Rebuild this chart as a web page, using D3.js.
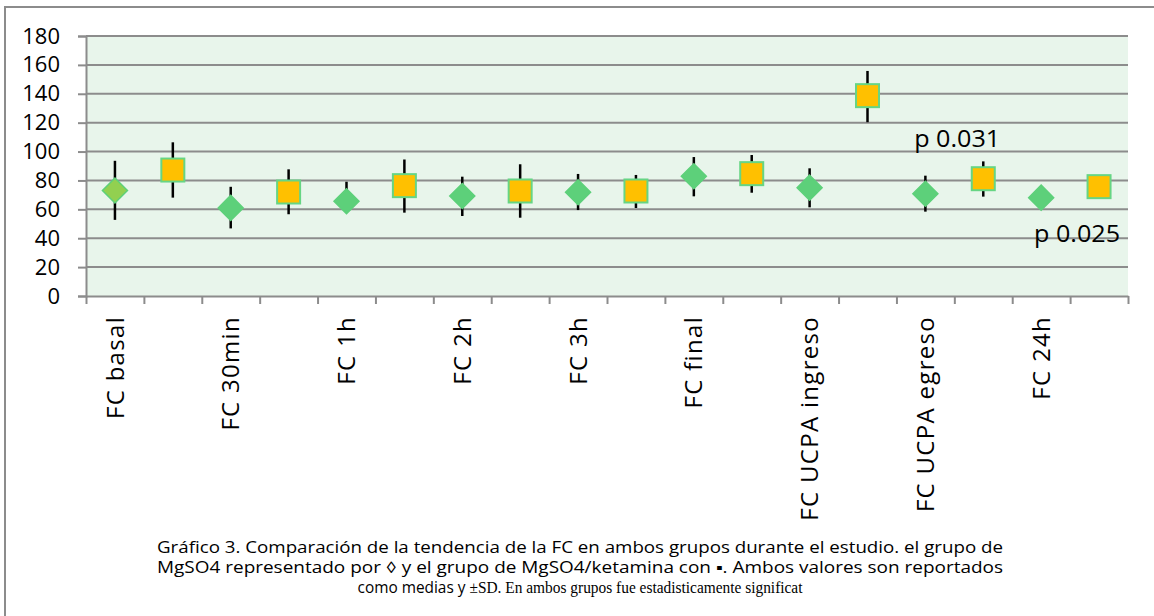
<!DOCTYPE html>
<html>
<head>
<meta charset="utf-8">
<script src="https://cdn.jsdelivr.net/npm/d3@7"></script>
<style>
  body { margin: 0; background: #fff; }
  svg text { font-family: "Open Sans", sans-serif; fill: #000; }
</style>
</head>
<body>
<svg width="1154" height="616"></svg>
<script>
// categories (Excel style: every other label empty)
var categories = ["FC basal", "", "FC 30min", "", "FC 1h", "", "FC 2h", "", "FC 3h", "",
                  "FC final", "", "FC UCPA ingreso", "", "FC UCPA egreso", "", "FC 24h", ""];

// MgSO4 group (diamonds), on even slots
var mgMean  = [73, 61, 65.6, 69.2, 71.8, 82.9, 75, 70.8, 68.1];
var mgPlus  = [20.6, 14.6, 13.5, 13.4, 12.7, 13.3, 13.4, 12.5, 0];
var mgMinus = [20.3, 14.2, 8, 13.8, 12.3, 13.9, 13.6, 12.4, 0];

// MgSO4/ketamina group (squares), on odd slots
var ketMean  = [87.2, 72, 76.4, 72.7, 72.7, 84.7, 138.7, 81.2, 75.7];
var ketPlus  = [19.2, 15.7, 18.1, 18.5, 11.1, 12.9, 17.1, 12, 0];
var ketMinus = [19.1, 15.4, 18.7, 18.5, 11.8, 13.2, 18.4, 12.4, 0];

var yTicks = [0, 20, 40, 60, 80, 100, 120, 140, 160, 180];

var notes = [
  {text: "p 0.031", slot: 15.05, value: 103.2},
  {text: "p 0.025", slot: 17.12, value: 37.4}
];

var captionLines = [
  "Gráfico 3. Comparación de la tendencia de la FC en ambos grupos durante el estudio. el grupo de",
  "MgSO4 representado por \u25CA  y el grupo de MgSO4/ketamina con \u25AA. Ambos valores son reportados"
];

var svg = d3.select("svg");

var plotLeft = 86, plotRight = 1128, plotTop = 36, plotBottom = 296;

var x = d3.scaleLinear().domain([0, categories.length]).range([plotLeft, plotRight]);
var y = d3.scaleLinear().domain([0, 180]).range([plotBottom, plotTop]);

// outer frame
svg.append("rect")
    .attr("x", 5).attr("y", 7)
    .attr("width", 1170).attr("height", 640)
    .attr("fill", "none")
    .attr("stroke", "#8c8c8c")
    .attr("stroke-width", 2);

// plot background
svg.append("rect")
    .attr("x", plotLeft).attr("y", plotTop)
    .attr("width", plotRight - plotLeft).attr("height", plotBottom - plotTop)
    .attr("fill", "#e8f5eb");

// gridlines
svg.append("g")
    .selectAll("line")
    .data(yTicks.slice(1))
    .enter().append("line")
        .attr("x1", plotLeft).attr("x2", plotRight)
        .attr("y1", function(d) { return y(d); })
        .attr("y2", function(d) { return y(d); })
        .attr("stroke", "#8c8c8c")
        .attr("stroke-width", 2);

// y axis
var yAxis = svg.append("g")
    .attr("transform", "translate(" + plotLeft + ",0)")
    .call(d3.axisLeft(y).tickValues(yTicks).tickSize(8).tickPadding(18));
yAxis.selectAll("path, line").attr("stroke", "#8c8c8c").attr("stroke-width", 2);
yAxis.selectAll("text").style("font-size", "22px").attr("fill", "#000");

// x axis, ticks between categories
var xAxis = svg.append("g")
    .attr("transform", "translate(0," + plotBottom + ")")
    .call(d3.axisBottom(x).tickValues(d3.range(categories.length + 1)).tickFormat("").tickSize(8).tickSizeOuter(0));
xAxis.selectAll("path, line").attr("stroke", "#8c8c8c").attr("stroke-width", 2);

// category labels
svg.append("g")
    .selectAll("text")
    .data(categories)
    .enter().append("text")
        .attr("transform", function(d, i) { return "translate(" + x(i + 0.5) + ",316) rotate(-90)"; })
        .attr("text-anchor", "end")
        .attr("dy", "0.36em")
        .style("font-size", "24px")
        .style("letter-spacing", "1.3px")
        .text(function(d) { return d; });

var mgData = mgMean.map(function(v, i) {
  return {slot: i * 2, mean: v, plus: mgPlus[i], minus: mgMinus[i]};
});
var ketData = ketMean.map(function(v, i) {
  return {slot: i * 2 + 1, mean: v, plus: ketPlus[i], minus: ketMinus[i]};
});

// error bars
svg.append("g")
    .selectAll("line")
    .data(mgData.concat(ketData).filter(function(d) { return d.plus > 0; }))
    .enter().append("line")
        .attr("x1", function(d) { return x(d.slot + 0.5); })
        .attr("x2", function(d) { return x(d.slot + 0.5); })
        .attr("y1", function(d) { return y(d.mean + d.plus); })
        .attr("y2", function(d) { return y(d.mean - d.minus); })
        .attr("stroke", "#000")
        .attr("stroke-width", 2.5);

// diamonds
svg.append("g")
    .selectAll("path")
    .data(mgData)
    .enter().append("path")
        .attr("transform", function(d) { return "translate(" + x(d.slot + 0.5) + "," + y(d.mean) + ")"; })
        .attr("d", "M0,-12.5L12.5,0L0,12.5L-12.5,0Z")
        .attr("fill", function(d, i) { return i === 0 ? "#92d050" : "#5dd07a"; })
        .attr("stroke", "#5dd07a")
        .attr("stroke-width", 1.5);

// squares
svg.append("g")
    .selectAll("rect")
    .data(ketData)
    .enter().append("rect")
        .attr("x", function(d) { return x(d.slot + 0.5) - 11.5; })
        .attr("y", function(d) { return y(d.mean) - 11.5; })
        .attr("width", 23).attr("height", 23)
        .attr("fill", "#ffc000")
        .attr("stroke", "#66d584")
        .attr("stroke-width", 2);

// p-value notes
svg.append("g")
    .selectAll("text")
    .data(notes)
    .enter().append("text")
        .attr("x", function(d) { return x(d.slot); })
        .attr("y", function(d) { return y(d.value); })
        .attr("text-anchor", "middle")
        .attr("textLength", 86)
        .attr("lengthAdjust", "spacingAndGlyphs")
        .style("font-size", "23px")
        .text(function(d) { return d.text; });

// caption
var caption = svg.append("g").attr("class", "caption");
caption.selectAll("text.line")
    .data(captionLines)
    .enter().append("text")
        .attr("class", "line")
        .attr("x", 580)
        .attr("y", function(d, i) { return 553 + i * 20; })
        .attr("text-anchor", "middle")
        .attr("textLength", 846)
        .attr("lengthAdjust", "spacingAndGlyphs")
        .style("font-size", "16px")
        .text(function(d) { return d; });

var last = caption.append("text")
    .attr("x", 580)
    .attr("y", 553 + 2 * 20)
    .attr("text-anchor", "middle")
    .attr("textLength", 445)
    .attr("lengthAdjust", "spacingAndGlyphs")
    .style("font-size", "16px");
last.append("tspan").text("como medias y ");
last.append("tspan")
    .style("font-family", "'Liberation Serif', 'DejaVu Serif', serif")
    .text("\u00B1SD. En ambos grupos fue estadisticamente significat");
</script>
</body>
</html>
